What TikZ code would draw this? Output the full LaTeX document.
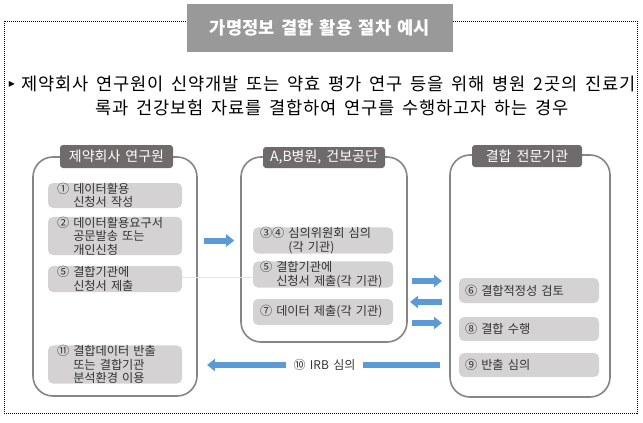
\documentclass[tikz,border=0pt]{standalone}
\usepackage{fontspec}
\setmainfont{Noto Sans CJK KR}[WordSpace=1.6]
\newfontfamily\leadfont{Noto Sans CJK KR}[WordSpace=1.6, LetterSpace=5]
\newfontfamily\symfont{DejaVu Sans}
\usetikzlibrary{arrows.meta}

\definecolor{titlegray}{HTML}{999999}
\definecolor{labelgray}{HTML}{6F6B6B}
\definecolor{itemgray}{HTML}{D4D2D2}
\definecolor{itemtext}{HTML}{333333}
\definecolor{panelline}{HTML}{858585}
\definecolor{flowblue}{HTML}{5B9BD5}

\tikzset{
  panel/.style={draw=panelline, line width=0.8pt, rounded corners=10pt},
  plate/.style={fill=labelgray, text=white, rounded corners=1.5pt, inner sep=0pt,
    font=\fontsize{7}{8}\selectfont},
  item/.style={fill=itemgray, rounded corners=2.5pt, align=left, text=itemtext,
    inner ysep=0pt, font=\fontsize{6.1}{5.3}\selectfont},
  litem/.style={item, text width=58pt, inner xsep=4.5pt},
  mitem/.style={item, text width=63pt, inner xsep=3.5pt},
  ritem/.style={item, text width=64pt, inner xsep=3pt},
  flow/.style={draw=flowblue, line width=3pt, -{Triangle[width=6pt,length=4pt]}},
  flowbar/.style={draw=flowblue, line width=2.6pt}
}

\begin{document}
\begin{tikzpicture}[x=0.5pt, y=-0.5pt]
  \useasboundingbox (0,0) rectangle (643,423);
  \draw[line width=0.5pt, dash pattern=on 0.5pt off 0.5pt] (4,21) rectangle (637,413);
  \node[fill=titlegray, text=white, minimum width=133pt, minimum height=24pt, inner sep=0pt,
    font=\fontsize{8.8}{10}\selectfont\bfseries] (title) at (320,28) {가명정보 결합 활용 절차 예시};

  % case description
  \node[inner sep=0pt, font=\symfont\fontsize{6}{7}\selectfont] (bullet) at (12,84) {▸};
  \node[anchor=west, inner sep=0pt, font=\leadfont\fontsize{8.8}{10}\selectfont] (lead1) at (21,84)
    {제약회사 연구원이 신약개발 또는 약효 평가 연구 등을 위해 병원 2곳의 진료기};
  \node[inner sep=0pt, font=\leadfont\fontsize{8.8}{10}\selectfont] (lead2) at (332,108)
    {록과 건강보험 자료를 결합하여 연구를 수행하고자 하는 경우};

  % three parties
  \node[panel, minimum width=82pt, minimum height=119.5pt] (company) at (115,276.5) {};
  \node[panel, minimum width=83pt, minimum height=92.5pt] (hospital) at (324,249.5) {};
  \node[panel, minimum width=80pt, minimum height=121pt] (agency) at (530,276) {};
  \node[plate, minimum width=56.5pt, minimum height=11.5pt] (companyL) at (116.5,156.5) {제약회사 연구원};
  \node[plate, minimum width=61pt, minimum height=10.5pt] (hospitalL) at (324,157.5) {A,B병원, 건보공단};
  \node[plate, minimum width=55pt, minimum height=11pt] (agencyL) at (527,156) {결합 전문기관};

  % steps
  \node[litem, minimum height=12.5pt] (l1) at (115,195.5) {① 데이터활용\\\phantom{①} 신청서 작성};
  \node[litem, minimum height=17pt] (l2) at (115,236) {② 데이터활용요구서\\\phantom{②} 공문발송 또는\\\phantom{②} 개인신청};
  \node[litem, minimum height=13pt] (l5) at (115,279) {⑤ 결합기관에\\\phantom{⑤} 신청서 제출};
  \node[litem, minimum height=17.5pt] (l11) at (115,364.5) {⑪ 결합데이터 반출\\\phantom{⑪} 또는 결합기관\\\phantom{⑪} 분석환경 이용};
  \node[mitem, minimum height=12.5pt] (m34) at (323,240.5) {③④ 심의위원회 심의\\\phantom{③④} (각 기관)};
  \node[mitem, minimum height=12.5pt] (m5) at (323,274.5) {⑤ 결합기관에\\\phantom{⑤} 신청서 제출(각 기관)};
  \node[mitem, minimum height=13pt] (m7) at (323,312) {⑦ 데이터 제출(각 기관)};
  \node[ritem, minimum height=12.5pt] (r6) at (529,290.5) {⑥ 결합적정성 검토};
  \node[ritem, minimum height=12pt] (r8) at (529,329) {⑧ 결합 수행};
  \node[ritem, minimum height=12pt] (r9) at (529,365) {⑨ 반출 심의};

  % flows
  \draw[gray!20, line width=0.3pt] (l5.east |- 0,277) -- (m5.west |- 0,277);
  \draw[flow] ([xshift=3pt]company.east |- m34) -- ([xshift=-3pt]hospital.west |- m34);
  \coordinate (hr1) at (412,281);
  \coordinate (rh1) at (442,281);
  \coordinate (hr2) at (410,302);
  \coordinate (rh2) at (442,302);
  \coordinate (hr3) at (412,323);
  \coordinate (rh3) at (442,323);
  \draw[flow] (hr1) -- (rh1);
  \draw[flow] (rh2) -- (hr2);
  \draw[flow] (hr3) -- (rh3);
  \node[inner xsep=3.8pt, text=itemtext, font=\fontsize{6}{7}\selectfont] (irb) at (324.5,365) {⑩ IRB 심의};
  \coordinate (irbR) at (440,365);
  \coordinate (irbL) at (207,365);
  \draw[flowbar] (irbR) -- (irb.east);
  \draw[flow] (irb.west) -- (irbL);
\end{tikzpicture}
\end{document}
